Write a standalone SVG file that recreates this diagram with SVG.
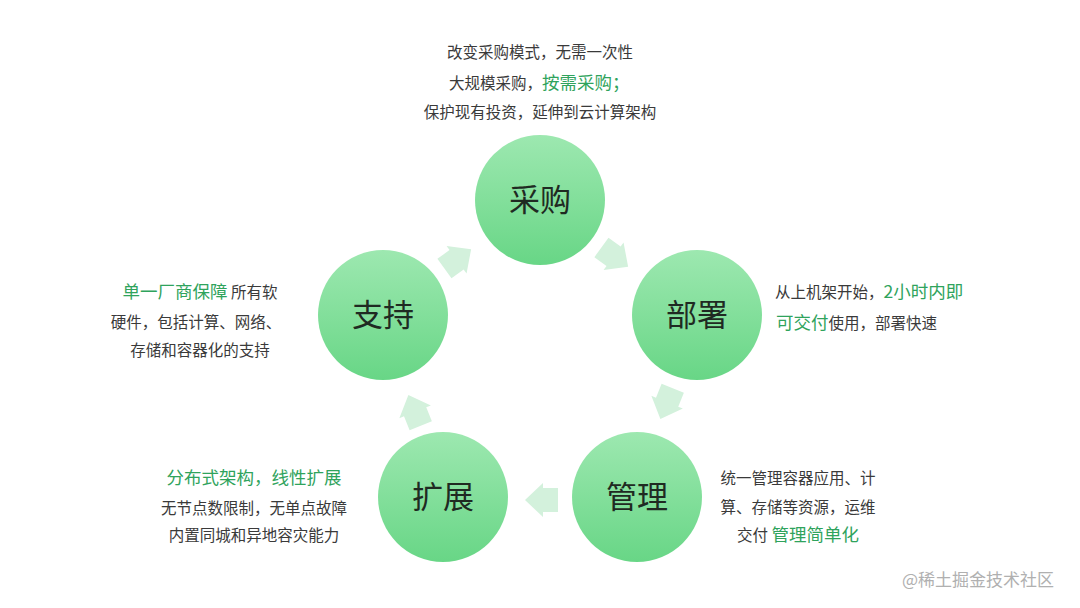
<svg xmlns="http://www.w3.org/2000/svg" width="1080" height="608" viewBox="0 0 1080 608">
<defs>
<linearGradient id="cg" x1="0" y1="0" x2="0" y2="1">
<stop offset="0" stop-color="#9de8b0"/>
<stop offset="1" stop-color="#68d686"/>
</linearGradient>
<path id="arr" d="M-18,-12 L-3,-12 L-3,-17 L15,0 L-3,17 L-3,12 L-18,12 Z"/>
</defs>
<style>
text{font-family:"Noto Sans CJK SC","Noto Sans",sans-serif;}
.c{fill:url(#cg);}
.lbl{font-size:31px;fill:#1f2a22;text-anchor:middle;}
.t{font-size:15.5px;fill:#3a3a3a;}
.g{font-size:17.5px;fill:#2fa35c;}
.a{fill:#d3f1dc;}
.wm{font-size:17px;fill:#b0b0b0;}
</style>
<rect width="1080" height="608" fill="#ffffff"/>

<g id="connectors">
<use href="#arr" class="a" transform="translate(459,258) rotate(-36)"/>
<use href="#arr" class="a" transform="translate(616,258) rotate(36)"/>
<use href="#arr" class="a" transform="translate(666,405) rotate(112)"/>
<use href="#arr" class="a" transform="translate(540,500) rotate(180)"/>
<use href="#arr" class="a" transform="translate(414,409) rotate(-112)"/>
</g>

<g id="node-caigou">
<circle class="c" cx="540" cy="200" r="65"/>
<text class="lbl" x="540" y="211">采购</text>
</g>
<g id="node-bushu">
<circle class="c" cx="697" cy="315" r="65"/>
<text class="lbl" x="697" y="326">部署</text>
</g>
<g id="node-guanli">
<circle class="c" cx="637" cy="497" r="65"/>
<text class="lbl" x="637" y="508">管理</text>
</g>
<g id="node-kuozhan">
<circle class="c" cx="443" cy="497" r="65"/>
<text class="lbl" x="443" y="508">扩展</text>
</g>
<g id="node-zhichi">
<circle class="c" cx="383" cy="315" r="65"/>
<text class="lbl" x="383" y="326">支持</text>
</g>

<g id="text-caigou">
<text class="t" x="540" y="58" text-anchor="middle">改变采购模式，无需一次性</text>
<text x="449" y="89"><tspan class="t">大规模采购，</tspan><tspan class="g">按需采购；</tspan></text>
<text class="t" x="540" y="118" text-anchor="middle">保护现有投资，延伸到云计算架构</text>
</g>
<g id="text-bushu">
<text x="775" y="298"><tspan class="t">从上机架开始，</tspan><tspan class="g">2小时内即</tspan></text>
<text x="776" y="329"><tspan class="g">可交付</tspan><tspan class="t">使用，部署快速</tspan></text>
</g>
<g id="text-guanli">
<text class="t" x="798" y="484" text-anchor="middle">统一管理容器应用、计</text>
<text class="t" x="798" y="513" text-anchor="middle">算、存储等资源，运维</text>
<text x="798" y="541" text-anchor="middle"><tspan class="t">交付 </tspan><tspan class="g">管理简单化</tspan></text>
</g>
<g id="text-kuozhan">
<text class="g" x="254" y="484" text-anchor="middle">分布式架构，线性扩展</text>
<text class="t" x="254" y="514" text-anchor="middle">无节点数限制，无单点故障</text>
<text class="t" x="254" y="541" text-anchor="middle">内置同城和异地容灾能力</text>
</g>
<g id="text-zhichi">
<text x="200" y="298" text-anchor="middle"><tspan class="g">单一厂商保障</tspan><tspan class="t"> 所有软</tspan></text>
<text class="t" x="196" y="328" text-anchor="middle">硬件，包括计算、网络、</text>
<text class="t" x="200" y="356" text-anchor="middle">存储和容器化的支持</text>
</g>
<text class="wm" x="902" y="586">@稀土掘金技术社区</text>
</svg>
